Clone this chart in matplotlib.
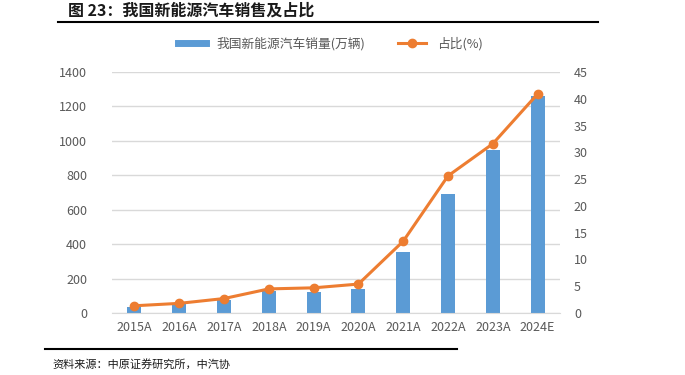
import numpy as np
import matplotlib.pyplot as plt
from matplotlib.lines import Line2D

plt.rcParams['font.family'] = ['Noto Sans CJK SC', 'DejaVu Sans']

years = ['2015A', '2016A', '2017A', '2018A', '2019A', '2020A', '2021A', '2022A', '2023A', '2024E']
sales = [33.1, 50.7, 77.7, 125.6, 120.6, 136.7, 352.1, 688.7, 949.5, 1260]
share = [1.35, 1.8, 2.7, 4.5, 4.7, 5.4, 13.4, 25.6, 31.6, 40.9]

blue = '#5B9BD5'
orange = '#ED7D31'
grey = '#595959'

fig = plt.figure(figsize=(6.85, 3.75), dpi=100)
ax = fig.add_axes([112/685, 1-313/375, 448/685, 241/375])
ax2 = ax.twinx()

x = np.arange(len(years))
ax.bar(x, sales, width=0.31, color=blue, zorder=2)
ax2.plot(x, share, color=orange, lw=2.2, marker='o', ms=6, zorder=3)

ax.set_xlim(-0.5, len(years) - 0.5)
ax.set_ylim(0, 1400)
ax.set_yticks(range(0, 1401, 200))
ax2.set_ylim(0, 45)
ax2.set_yticks(range(0, 46, 5))
ax.set_xticks(x)
ax.set_xticklabels(years)

ax.grid(axis='y', color='#D9D9D9', lw=1, zorder=0)
for a in (ax, ax2):
    for s in a.spines.values():
        s.set_visible(False)
    a.tick_params(length=0, colors=grey, labelsize=9)
ax.spines['bottom'].set_visible(True)
ax.spines['bottom'].set_color('#D9D9D9')
ax.tick_params(axis='y', pad=18)
ax.tick_params(axis='x', pad=6)
ax2.tick_params(axis='y', pad=10)

handles = [Line2D([], [], color=blue, lw=5),
           Line2D([], [], color=orange, lw=2.2, marker='o', ms=6)]
fig.legend(handles, ['我国新能源汽车销量(万辆)', '占比(%)'], loc='center',
           bbox_to_anchor=(0.482, 1-44/375), ncol=2, frameon=False,
           fontsize=9.2, labelcolor=grey, handlelength=2.2, columnspacing=2.6)

fig.text(68/685, 1-11/375, '图 23：我国新能源汽车销售及占比', fontsize=11.5,
         fontweight='bold', va='center', ha='left', color='#1a1a1a')
fig.add_artist(Line2D([58/685, 598/685], [1-22/375, 1-22/375], color='black', lw=1.5))
fig.add_artist(Line2D([45/685, 457/685], [1-349/375, 1-349/375], color='black', lw=1.5))
fig.text(52/685, 1-364/375, '资料来源：中原证券研究所，中汽协', fontsize=8,
         va='center', ha='left', color='#1a1a1a')

fig.savefig('out.png', dpi=100)
